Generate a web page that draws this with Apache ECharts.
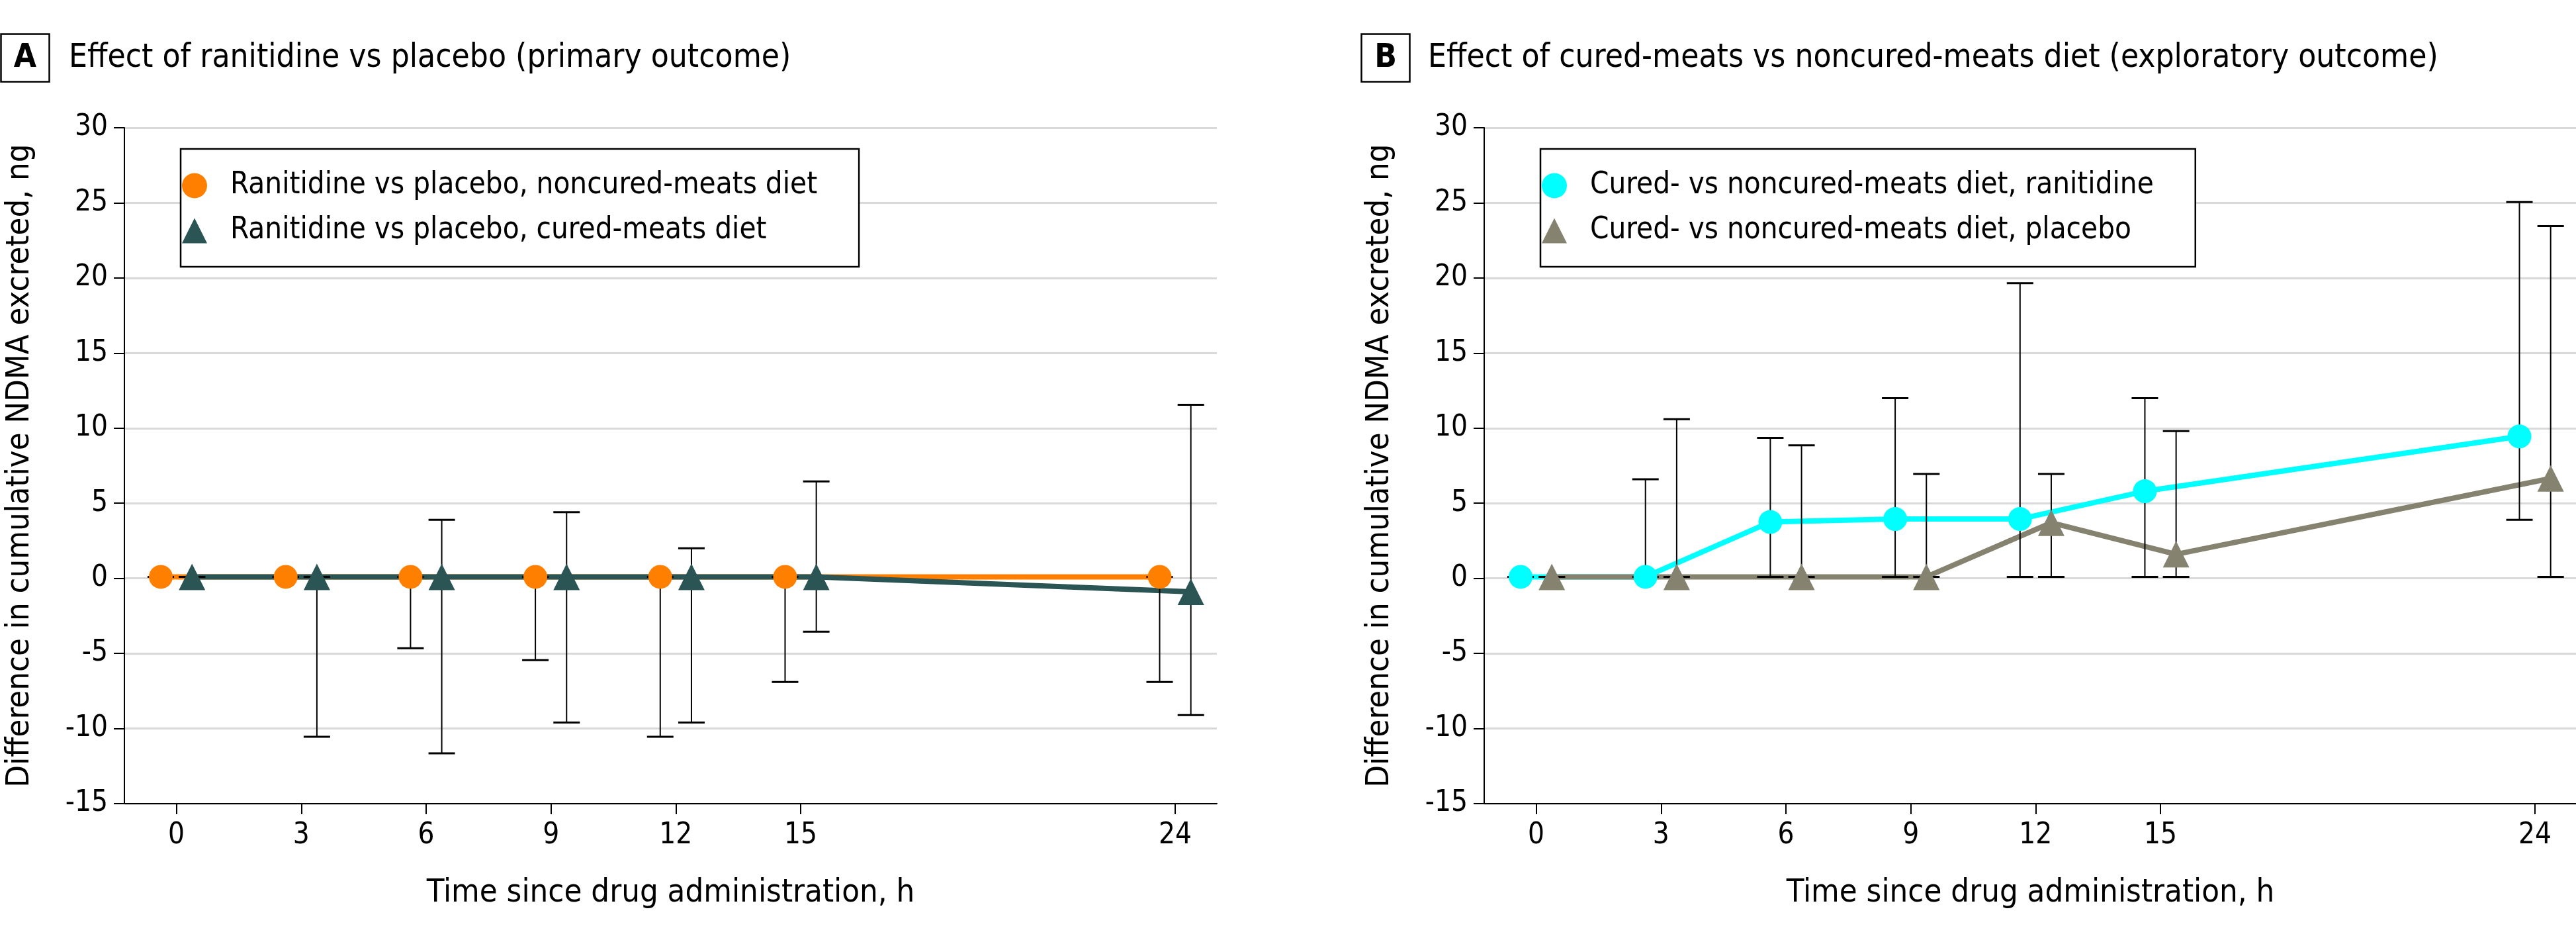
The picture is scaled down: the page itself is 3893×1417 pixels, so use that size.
<!DOCTYPE html>
<html><head><meta charset="utf-8">
<script src="https://cdn.jsdelivr.net/npm/echarts@6/dist/echarts.min.js"></script>
<style>html,body{margin:0;padding:0;background:#fff}#c{width:3893px;height:1417px}</style>
</head><body><div id="c"></div>
<script>
// ---------- data ----------
const times = [0, 3, 6, 9, 12, 15, 24];
const xTickValues = [0, 3, 6, 9, 12, 15, 24];
const xAxisTitle = 'Time since drug administration, h';
const yAxisTitle = 'Difference in cumulative NDMA excreted, ng';

const titleA = 'Effect of ranitidine vs placebo (primary outcome)';
const titleB = 'Effect of cured-meats vs noncured-meats diet (exploratory outcome)';

// Panel A
const aNoncuredName = 'Ranitidine vs placebo, noncured-meats diet';
const aNoncuredEst  = [0.1, 0.1, 0.1, 0.1, 0.1, 0.1, 0.1];
const aNoncuredLow  = [0.1, 0.1, -4.65, -5.45, -10.55, -6.9, -6.9];
const aNoncuredHigh = [0.1, 0.1, 0.1, 0.1, 0.1, 0.1, 0.1];

const aCuredName = 'Ranitidine vs placebo, cured-meats diet';
const aCuredEst  = [0.1, 0.1, 0.1, 0.1, 0.1, 0.1, -0.9];
const aCuredLow  = [0.1, -10.55, -11.65, -9.6, -9.6, -3.55, -9.1];
const aCuredHigh = [0.1, 0.1, 3.9, 4.4, 2.0, 6.45, 11.55];

// Panel B
const bRanName = 'Cured- vs noncured-meats diet, ranitidine';
const bRanEst  = [0.1, 0.1, 3.75, 3.95, 3.95, 5.8, 9.45];
const bRanLow  = [0.1, 0.1, 0.1, 0.1, 0.1, 0.1, 3.9];
const bRanHigh = [0.1, 6.6, 9.35, 12.0, 19.65, 12.0, 25.05];

const bPlaName = 'Cured- vs noncured-meats diet, placebo';
const bPlaEst  = [0.1, 0.1, 0.1, 0.1, 3.7, 1.6, 6.65];
const bPlaLow  = [0.1, 0.1, 0.1, 0.1, 0.1, 0.1, 0.1];
const bPlaHigh = [0.1, 10.6, 8.85, 6.95, 6.95, 9.8, 23.45];

// ---------- fonts ----------
const cv = document.createElement('canvas').getContext('2d');
function fontAvail(f) {
  const s = 'abcdefghijklmnopqrstuvwxyzABCDEFGHIJ0123456789';
  cv.font = '100px monospace'; const w1 = cv.measureText(s).width;
  cv.font = '100px "' + f + '", monospace'; const w2 = cv.measureText(s).width;
  cv.font = '100px serif'; const w3 = cv.measureText(s).width;
  cv.font = '100px "' + f + '", serif'; const w4 = cv.measureText(s).width;
  return w1 !== w2 || w3 !== w4;
}
const FAM = ['Liberation Sans Narrow', 'DejaVu Sans Condensed', 'Roboto'].find(fontAvail) || 'sans-serif';
function fitSize(text, target, weight) {
  cv.font = (weight || 'normal') + ' 100px "' + FAM + '"';
  return 100 * target / cv.measureText(text).width;
}
const titleSize = fitSize(titleB, 1527);
const legendSize = fitSize(bRanName, 852);
const tickSize = fitSize('30', 50);
const xNameSize = fitSize(xAxisTitle, 738);
const yNameSize = fitSize(yAxisTitle, 972);
const boxSize = titleSize;

// ---------- helpers ----------
const DODGE = 0.375;
const TRI = 'path://M50,0L100,100L0,100Z';
const C_ORANGE = '#FF8000', C_TEAL = '#2B5554', C_CYAN = '#00FFFF', C_GRAY = '#85836F';

function pts(est, d) { return times.map((t, i) => [t + d, est[i]]); }
function errs(low, high, d) { return times.map((t, i) => [t + d, low[i], high[i]]); }

function errRender(params, api) {
  const x = api.value(0), lo = api.value(1), hi = api.value(2);
  const pLo = api.coord([x, lo]), pHi = api.coord([x, hi]);
  const hw = 20;
  return { type: 'group', children: [
    { type: 'line', shape: { x1: pLo[0], y1: pLo[1], x2: pHi[0], y2: pHi[1] }, style: { stroke: '#000', lineWidth: 2 } },
    { type: 'line', shape: { x1: pLo[0] - hw, y1: pLo[1], x2: pLo[0] + hw, y2: pLo[1] }, style: { stroke: '#000', lineWidth: 3 } },
    { type: 'line', shape: { x1: pHi[0] - hw, y1: pHi[1], x2: pHi[0] + hw, y2: pHi[1] }, style: { stroke: '#000', lineWidth: 3 } }
  ]};
}

function xAxisCfg(gi) {
  return {
    gridIndex: gi, type: 'value', min: -1.25, max: 25,
    axisLine: { show: true, onZero: false, lineStyle: { color: '#000', width: 2 } },
    axisTick: { show: true, customValues: xTickValues, length: 16, lineStyle: { color: '#000', width: 2 } },
    axisLabel: { customValues: xTickValues, margin: 27, color: '#000', fontSize: tickSize, fontFamily: FAM },
    splitLine: { show: false },
    name: xAxisTitle, nameLocation: 'middle', nameGap: 1366 - 0.85 * xNameSize - 1214,
    nameMoveOverlap: false,
    nameTextStyle: { color: '#000', fontSize: xNameSize, fontFamily: FAM }
  };
}
function yAxisCfg(gi) {
  return {
    gridIndex: gi, type: 'value', min: -15, max: 30, interval: 5,
    axisLine: { show: true, onZero: false, lineStyle: { color: '#000', width: 2 } },
    axisTick: { show: true, length: 16, lineStyle: { color: '#000', width: 2 } },
    axisLabel: { margin: 25, color: '#000', fontSize: tickSize, fontFamily: FAM },
    splitLine: { show: true, lineStyle: { color: '#d9d9d9', width: 3 } },
    name: yAxisTitle, nameLocation: 'middle', nameRotate: 90,
    nameGap: 140 - 0.15 * yNameSize, nameMoveOverlap: false,
    nameTextStyle: { color: '#000', fontSize: yNameSize, fontFamily: FAM }
  };
}
function panelSeries(gi, n1, e1, l1, h1, c1, n2, e2, l2, h2, c2) {
  return [
    { name: n1 + ' (line)', type: 'line', xAxisIndex: gi, yAxisIndex: gi, data: pts(e1, -DODGE), showSymbol: false, symbol: 'none',
      lineStyle: { color: c1, width: 8 }, itemStyle: { color: c1 }, z: 2, silent: true, animation: false },
    { name: n2 + ' (line)', type: 'line', xAxisIndex: gi, yAxisIndex: gi, data: pts(e2, DODGE), showSymbol: false, symbol: 'none',
      lineStyle: { color: c2, width: 8 }, itemStyle: { color: c2 }, z: 3, silent: true, animation: false },
    { name: n1 + ' CI', type: 'custom', xAxisIndex: gi, yAxisIndex: gi, data: errs(l1, h1, -DODGE), renderItem: errRender,
      encode: { x: 0, y: [1, 2] }, z: 4, silent: true, animation: false },
    { name: n2 + ' CI', type: 'custom', xAxisIndex: gi, yAxisIndex: gi, data: errs(l2, h2, DODGE), renderItem: errRender,
      encode: { x: 0, y: [1, 2] }, z: 4, silent: true, animation: false },
    { name: n1, type: 'scatter', xAxisIndex: gi, yAxisIndex: gi, data: pts(e1, -DODGE), symbol: 'circle', symbolSize: 36,
      itemStyle: { color: c1, opacity: 1 }, z: 5, animation: false },
    { name: n2, type: 'scatter', xAxisIndex: gi, yAxisIndex: gi, data: pts(e2, DODGE), symbol: 'triangle', symbolSize: 40,
      itemStyle: { color: c2, opacity: 1 }, z: 5, animation: false }
  ];
}
function legendCfg(left, n1, n2) {
  return {
    left: left, top: 225, orient: 'vertical', selectedMode: false,
    data: [{ name: n1, icon: 'circle' }, { name: n2, icon: TRI }],
    itemWidth: 98, itemHeight: 38, itemGap: 23, padding: [33, 63, 32, 2],
    borderColor: '#000', borderWidth: 2.5, backgroundColor: '#fff',
    itemStyle: { borderWidth: 0 },
    textStyle: { fontSize: legendSize, fontFamily: FAM, color: '#000', lineHeight: 38 },
    z: 10
  };
}
function panelLabel(x0, letter, titleX, title) {
  return [
    { type: 'rect', shape: { x: x0, y: 51.5, width: 73, height: 72 }, style: { fill: '#fff', stroke: '#000', lineWidth: 2.5 } },
    { type: 'text', x: x0 + 36.5, y: 88, style: { text: letter, font: 'bold ' + boxSize + 'px "' + FAM + '"', fill: '#000', align: 'center', verticalAlign: 'middle' } },
    { type: 'text', x: titleX, y: 88.5, style: { text: title, font: titleSize + 'px "' + FAM + '"', fill: '#000', align: 'left', verticalAlign: 'middle' } }
  ];
}

const chart = echarts.init(document.getElementById('c'), null, { renderer: 'canvas', width: 3893, height: 1417 });
chart.setOption({
  backgroundColor: '#fff',
  animation: false,
  textStyle: { fontFamily: FAM },
  grid: [
    { left: 188, top: 193, width: 1651, height: 1021, containLabel: false, outerBoundsMode: 'none' },
    { left: 2243, top: 193, width: 1651, height: 1021, containLabel: false, outerBoundsMode: 'none' }
  ],
  xAxis: [xAxisCfg(0), xAxisCfg(1)],
  yAxis: [yAxisCfg(0), yAxisCfg(1)],
  legend: [legendCfg(273, aNoncuredName, aCuredName), legendCfg(2328, bRanName, bPlaName)],
  graphic: [].concat(panelLabel(1.5, 'A', 104, titleA), panelLabel(2057.5, 'B', 2158, titleB)),
  series: [].concat(
    panelSeries(0, aNoncuredName, aNoncuredEst, aNoncuredLow, aNoncuredHigh, C_ORANGE, aCuredName, aCuredEst, aCuredLow, aCuredHigh, C_TEAL),
    panelSeries(1, bRanName, bRanEst, bRanLow, bRanHigh, C_CYAN, bPlaName, bPlaEst, bPlaLow, bPlaHigh, C_GRAY)
  )
});
</script></body></html>
